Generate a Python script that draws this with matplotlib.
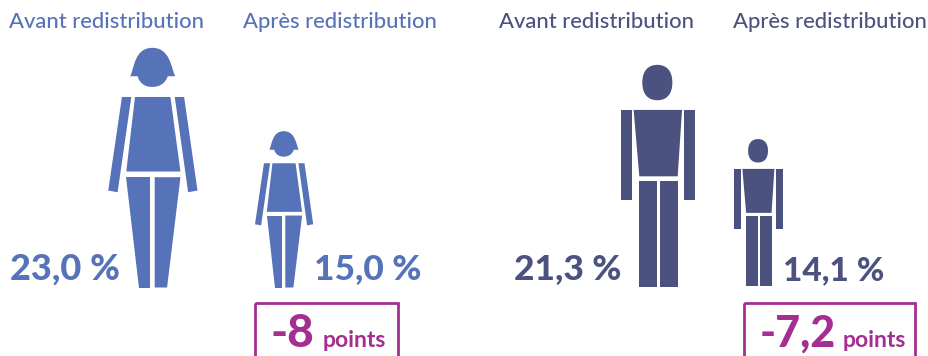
import matplotlib
matplotlib.use("Agg")
from matplotlib import pyplot as plt
from matplotlib.path import Path
from matplotlib.patches import PathPatch, Rectangle

headers = ["Avant redistribution", "Après redistribution", "Avant redistribution", "Après redistribution"]
values = [23.0, 15.0, 21.3, 14.1]
value_labels = ["23,0 %", "15,0 %", "21,3 %", "14,1 %"]
delta_labels = ["-8", "-7,2"]
delta_unit = "points"

woman_col = "#5672B9"
man_col = "#4B527F"
purple = "#A42F90"
plt.rcParams["font.family"] = ["Lato", "DejaVu Sans"]

PX_PER_POINT = 10.42  # figure height in px for one percent


def poly(pts):
    verts = list(pts) + [pts[0]]
    codes = [Path.MOVETO] + [Path.LINETO] * (len(pts) - 1) + [Path.CLOSEPOLY]
    return verts, codes


# pictogram outlines, in px of the zoomed drawing
def woman_parts():
    hair_verts = [(122, 140), (134, 112), (136, 55), (188, 55), (240, 55), (244, 112), (256, 140),
                  (234, 140), (226, 163), (208, 172), (188, 172), (168, 172), (150, 163), (144, 140), (122, 140)]
    hair_codes = [Path.MOVETO] + [Path.CURVE4] * 6 + [Path.LINETO] * 1 + [Path.CURVE4] * 6 + [Path.CLOSEPOLY]
    parts = [(hair_verts, hair_codes)]
    parts.append(poly([(136, 202), (242, 202), (272, 425), (110, 425)]))
    parts.append(poly([(97, 202), (125, 202), (84, 487), (56, 482)]))
    parts.append(poly([(255, 202), (283, 202), (323, 482), (295, 487)]))
    parts.append(poly([(110, 442), (182, 442), (182, 772), (149, 772)]))
    parts.append(poly([(195, 442), (272, 442), (232, 772), (195, 772)]))
    return parts, 189, 55, 772


def man_parts():
    head_verts = [(127, 98), (127, 62), (145, 45), (172, 45), (199, 45), (217, 62), (217, 98),
                  (217, 134), (199, 151), (172, 151), (145, 151), (127, 134), (127, 98), (127, 98)]
    head_codes = [Path.MOVETO] + [Path.CURVE4] * 12 + [Path.CLOSEPOLY]
    parts = [(head_verts, head_codes)]
    parts.append(poly([(101, 180), (246, 180), (233, 379), (118, 379)]))
    parts.append(poly([(63, 180), (96, 180), (96, 450), (63, 450)]))
    parts.append(poly([(252, 180), (285, 180), (285, 450), (252, 450)]))
    parts.append(poly([(117, 393), (171, 393), (171, 710), (117, 710)]))
    parts.append(poly([(180, 393), (234, 393), (234, 710), (180, 710)]))
    return parts, 174, 45, 710


def draw_person(ax, parts_fn, cx, base, value, col):
    parts, x0, top, bottom = parts_fn()
    k = value * PX_PER_POINT / (bottom - top)
    for verts, codes in parts:
        pts = [(cx + (x - x0) * k, base + (y - bottom) * k) for x, y in verts]
        ax.add_patch(PathPatch(Path(pts, codes), fc=col, ec="none", lw=0))


fig = plt.figure(figsize=(9.29, 3.56), dpi=100)
ax = fig.add_axes([0, 0, 1, 1])
ax.set_xlim(0, 929)
ax.set_ylim(356, 0)
ax.axis("off")

draw_person(ax, woman_parts, 152.7, 287.5, values[0], woman_col)
draw_person(ax, woman_parts, 284, 287.5, values[1], woman_col)
draw_person(ax, man_parts, 658, 286.8, values[2], man_col)
draw_person(ax, man_parts, 758.5, 286, values[3], man_col)

# headers
ax.text(9, 27.5, headers[0], color=woman_col, fontsize=15.8, fontweight="medium", va="baseline", ha="left")
ax.text(243, 27.5, headers[1], color=woman_col, fontsize=15.8, fontweight="medium", va="baseline", ha="left")
ax.text(499, 27.5, headers[2], color=man_col, fontsize=15.8, fontweight="medium", va="baseline", ha="left")
ax.text(733, 27.5, headers[3], color=man_col, fontsize=15.8, fontweight="medium", va="baseline", ha="left")

# big values
ax.text(10, 280, value_labels[0], color=woman_col, fontsize=26, fontweight="black", va="baseline")
ax.text(314, 280, value_labels[1], color=woman_col, fontsize=25.5, fontweight="black", va="baseline")
ax.text(514, 280, value_labels[2], color=man_col, fontsize=25.5, fontweight="black", va="baseline")
ax.text(783, 280, value_labels[3], color=man_col, fontsize=24, fontweight="black", va="baseline")

# boxes at the bottom, cut by the figure edge
ax.add_patch(Rectangle((255.5, 302.5), 143, 70, fc="none", ec=purple, lw=2))
ax.add_patch(Rectangle((744.5, 302.5), 170.5, 70, fc="none", ec=purple, lw=2))
ax.text(271, 347, delta_labels[0], color=purple, fontsize=33, fontweight="black", va="baseline")
ax.text(323, 347, delta_unit, color=purple, fontsize=16.5, fontweight="bold", va="baseline")
ax.text(760, 347, delta_labels[1], color=purple, fontsize=31, fontweight="black", va="baseline")
ax.text(843, 347, delta_unit, color=purple, fontsize=16.5, fontweight="bold", va="baseline")

fig.savefig("out.png", dpi=100)
